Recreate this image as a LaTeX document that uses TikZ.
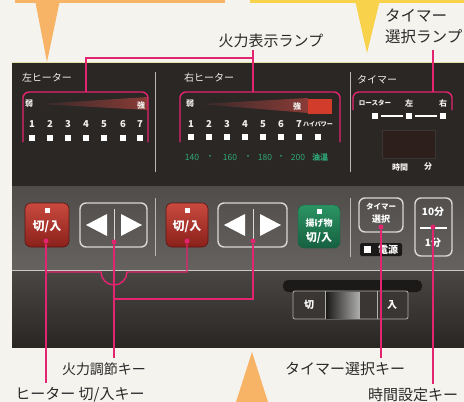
\documentclass[tikz,border=0pt]{standalone}
\usepackage{fontspec}
\newfontfamily\jp{Noto Sans CJK JP}
\usetikzlibrary{calc}
\definecolor{bgc}{HTML}{F5F3EE}
\definecolor{orc}{HTML}{F8B466}
\definecolor{yec}{HTML}{F7D24A}
\definecolor{upc}{HTML}{2A2725}
\definecolor{midt}{HTML}{4F4C4A}
\definecolor{midb}{HTML}{65625F}
\definecolor{lowt}{HTML}{4A4644}
\definecolor{lowb}{HTML}{2A2624}
\definecolor{rimc}{HTML}{C9C8C4}
\definecolor{edgec}{HTML}{E6E0A6}
\definecolor{pk}{HTML}{E3246E}
\definecolor{labc}{HTML}{2A2A2A}
\definecolor{grn}{HTML}{2FA877}
\definecolor{sepc}{HTML}{B8B8B8}
\definecolor{redt}{HTML}{C94A3E}
\definecolor{redb}{HTML}{8A201B}
\definecolor{redd}{HTML}{5E1511}
\definecolor{grnt}{HTML}{2B9463}
\definecolor{grnb}{HTML}{166040}
\definecolor{wdl}{HTML}{35292A}
\definecolor{wdr}{HTML}{8A3B36}
\definecolor{hpred}{HTML}{D23C2B}
\definecolor{dispc}{HTML}{2C1F1C}
\definecolor{btnl}{HTML}{D8D8D6}
\definecolor{txtw}{HTML}{F2F0EC}
\definecolor{slotc}{HTML}{1C1A19}
\definecolor{swc}{HTML}{3A3634}
\definecolor{swhi}{HTML}{B0B0AE}
\newcommand\jpfs[1]{\fontsize{#1}{#1}\selectfont}
\tikzset{
 lbl/.style={font=\jp\jpfs{15}, text=labc, inner sep=0pt},
 ptxt/.style={font=\jp\jpfs{10}, text=txtw, inner sep=0pt},
 small/.style={font=\jp\bfseries\jpfs{8}, text=txtw, inner sep=0pt},
 num/.style={font=\jp\bfseries\jpfs{9.5}, text=txtw, inner sep=0pt},
 lamp/.style={fill=white, minimum size=6.5pt, inner sep=0pt},
 tmp/.style={font=\jp\jpfs{8.5}, text=grn, inner sep=0pt},
 pline/.style={draw=pk, line width=1.4pt},
 pdot/.style={circle, fill=pk, minimum size=5pt, inner sep=0pt},
 sep/.style={draw=sepc, line width=1pt},
 redbtn/.style={rounded corners=6pt, top color=redt, bottom color=redb, draw=redd, line width=0.6pt},
 outbtn/.style={rounded corners=6pt, draw=btnl, line width=1.4pt},
 btxt/.style={font=\jp\bfseries\jpfs{12}, text=white, inner sep=0pt},
}
\begin{document}
\begin{tikzpicture}[x=1pt,y=-1pt]
\useasboundingbox (0,0) rectangle (464,402);
\fill[bgc] (0,0) rectangle (464,402);
% top stripes and pointers
\fill[orc] (15,0) rectangle (225,3);
\fill[yec] (250,0) rectangle (464,3);
\fill[orc] (35,0) -- (60,0) -- (47,62) -- cycle;
\fill[yec] (355,0) -- (380,0) -- (367,53) -- cycle;
% panel body
\fill[upc] (12,63) rectangle (464,186);
\shade[top color=midt, bottom color=midb] (12,186) rectangle (464,270);
\shade[top color=lowt, bottom color=lowb] (12,271) rectangle (464,347);
\draw[rimc, line width=1.8pt] (12,270.5) -- (464,270.5);
\draw[edgec, line width=1pt] (12,62.5) -- (464,62.5);
\fill[orc] (236,402) -- (268,402) -- (252,352) -- cycle;
% separators
\draw[sep] (155,72) -- (155,172);
\draw[sep] (350,72) -- (350,172);
\draw[sep] (155,198) -- (155,256);
\draw[sep] (350,198) -- (350,257);
% section titles
\node[ptxt] (tl) at (47,78) {左ヒーター};
\node[ptxt] (tr) at (209,78) {右ヒーター};
\node[ptxt] (tt) at (377,80) {タイマー};
% wedges
\shade[left color=wdl, right color=wdr] (38,104) -- (148,97) -- (148,110) -- cycle;
\shade[left color=wdl, right color=wdr] (199,104) -- (308,98) -- (308,113) -- cycle;
\fill[hpred] (308,99) rectangle (332,114);
\node[small] (wl1) at (29,104) {弱};
\node[small] (sl1) at (141,105) {強};
\node[small] (wr1) at (190,104) {弱};
\node[small] (sr1) at (297,106) {強};
% left lamps
\foreach \x [count=\i] in {32,50,68,86,104,123,140} {
  \node[num] (ln\i) at (\x,124) {\i};
  \node[lamp] (ll\i) at (\x,138) {};
}
% right lamps
\foreach \x [count=\i] in {191,209,227,245,263,281,299} {
  \node[num] (rn\i) at (\x,124) {\i};
  \node[lamp] (rl\i) at (\x,137) {};
}
\node[font=\jp\bfseries\jpfs{6}, text=txtw, inner sep=0pt] (hp) at (318,124) {ハイパワー};
\node[lamp] (rl8) at (318,137) {};
\node[tmp] (t1) at (192,157) {140};
\node[tmp] (d1) at (210,157) {・};
\node[tmp] (t2) at (230,157) {160};
\node[tmp] (d2) at (248,157) {・};
\node[tmp] (t3) at (265,157) {180};
\node[tmp] (d3) at (281,157) {・};
\node[tmp] (t4) at (298,157) {200};
\node[tmp, font=\jp\bfseries\jpfs{8}] (t5) at (320,157) {油温};
% timer lamps
\node[font=\jp\bfseries\jpfs{6.5}, text=txtw, inner sep=0pt] (ro) at (375,103) {ロースター};
\node[small] (hl) at (409,103) {左};
\node[small] (hr) at (443,103) {右};
\node[lamp] (q1) at (375,116) {};
\node[lamp] (q2) at (409,116) {};
\node[lamp] (q3) at (443,116) {};
\draw[white, line width=1.2pt] ($(q1.east)+(3,0)$) -- ($(q2.west)+(-3,0)$);
\draw[white, line width=1.2pt] ($(q2.east)+(3,0)$) -- ($(q3.west)+(-3,0)$);
\node[draw=swc, fill=dispc, minimum width=53pt, minimum height=28pt, inner sep=0pt] (disp) at (408.5,144) {};
\node[small] (jk) at (400,167) {時間};
\node[small] (fn) at (428,167) {分};
% magenta lamp brackets
\draw[pline, rounded corners=6pt] (23,142) -- (23,92) -- (148,92) -- (148,142);
\draw[pline, rounded corners=6pt] (180,142) -- (180,92) -- (340,92) -- (340,142);
\draw[pline, rounded corners=6pt] (353,110) -- (353,92) -- (452,92) -- (452,110);
\node[lbl] (hyoji) at (271,41) {火力表示ランプ};
\node[lbl, align=left, anchor=north west, font=\jp\jpfs{15.5}] (tsel) at (385,9) {タイマー\\[5pt]選択ランプ};
\coordinate (hy) at (253,50);
\coordinate (ts) at (433,50);
\draw[pline] (86,92) -- (86,58) -- (253,58);
\draw[pline] (hy) -- (253,92);
\draw[pline] (ts) -- (433,92);
% buttons
\draw[redbtn] (25,203) rectangle (69,247);
\fill[white] (44.5,207.5) rectangle (49.5,212.5);
\node[btxt] (kl) at (47,227) {切/入};
\draw[outbtn] (80,203) rectangle (147,247);
\draw[btnl, line width=1pt] (114,209) -- (114,241);
\fill[white] (86,225) -- (107,214) -- (107,236) -- cycle;
\fill[white] (142,225) -- (121,214) -- (121,236) -- cycle;
\draw[redbtn] (166,203) rectangle (208,247);
\fill[white] (184.5,207.5) rectangle (189.5,212.5);
\node[btxt] (kr) at (187,227) {切/入};
\draw[outbtn] (218,203) rectangle (287,247);
\draw[btnl, line width=1pt] (253,209) -- (253,241);
\fill[white] (224,225) -- (245,214) -- (245,236) -- cycle;
\fill[white] (281,225) -- (260,214) -- (260,236) -- cycle;
\draw[rounded corners=6pt, top color=grnt, bottom color=grnb, draw=grnb] (298,205) rectangle (340,248);
\fill[white] (316.5,208.5) rectangle (321.5,213.5);
\node[btxt, font=\jp\bfseries\jpfs{9}] (ag) at (319,223) {揚げ物};
\node[btxt, font=\jp\bfseries\jpfs{11}] (ak) at (319,238) {切/入};
\draw[outbtn] (359,198) rectangle (403,232);
\node[btxt, font=\jp\bfseries\jpfs{7.5}] (ts1) at (381,207) {タイマー};
\node[btxt, font=\jp\bfseries\jpfs{9}] (ts2) at (381,219) {選択};
\fill[slotc, rounded corners=1.5pt] (360,243) rectangle (402,256);
\fill[white] (364,246) rectangle (371,253);
\node[btxt, font=\jp\bfseries\jpfs{10}] (dg) at (388,249.5) {電源};
\draw[outbtn] (415,198) rectangle (452,256);
\node[btxt, font=\jp\bfseries\jpfs{10}] (m10) at (433,212) {10分};
\draw[white, line width=1.2pt] (420,228) -- (447,228);
\node[btxt, font=\jp\bfseries\jpfs{10}] (m1) at (433,243) {1分};
% switch
\fill[slotc, rounded corners=5pt] (283,280) rectangle (422,292);
\draw[fill=swc, draw=swhi, line width=0.8pt, rounded corners=2pt] (293,291) rectangle (408,319);
\shade[left color=slotc, right color=swhi] (326,292) rectangle (360,318);
\fill[swc] (360,292) rectangle (376,318);
\draw[swhi, line width=0.8pt] (325,291) -- (325,319);
\draw[swhi, line width=0.8pt] (377,291) -- (377,319);
\node[btxt, font=\jp\bfseries\jpfs{10}] (swk) at (309,305) {切};
\node[btxt, font=\jp\bfseries\jpfs{10}] (swn) at (392,305) {入};
% key dots
\node[pdot] (pa) at (46,241) {};
\node[pdot] (pb) at (114,242) {};
\node[pdot] (pc) at (187,241) {};
\node[pdot] (pd) at (253,241) {};
\node[pdot] (pe) at (381,227) {};
\node[pdot] (pf) at (433,227) {};
% bottom labels
\node[lbl] (hkey) at (80,395) {ヒーター 切/入キー};
\node[lbl, font=\jp\jpfs{14}] (kkey) at (104,369) {火力調節キー};
\node[lbl] (tkey) at (345,369) {タイマー選択キー};
\node[lbl] (jkey) at (413,395) {時間設定キー};
% connectors
\draw[pline] (pa) -- ($(pa |- hkey.north)+(0,-4)$);
\draw[pline] (pa |- 0,272) -- (101,272) arc[start angle=180, end angle=0, radius=13] -- (187,272) -- (pc);
\draw[pline] (pb) -- ($(pb |- kkey.north)+(0,-4)$);
\draw[pline] (pd) -- (253,299) -- (pb |- 0,299);
\draw[pline] (pe) -- ($(pe |- tkey.north)+(0,-4)$);
\draw[pline] (pf) -- ($(pf |- jkey.north)+(0,-4)$);
\end{tikzpicture}
\end{document}
